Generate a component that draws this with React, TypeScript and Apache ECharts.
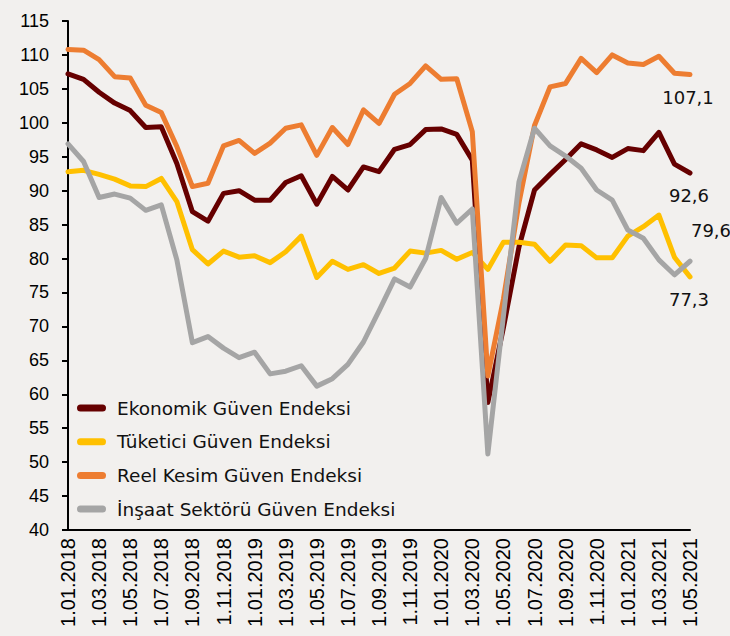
import React, { useEffect, useRef } from "react";
import * as echarts from "echarts";

const months = [
  "1.01.2018", "1.02.2018", "1.03.2018", "1.04.2018", "1.05.2018", "1.06.2018",
  "1.07.2018", "1.08.2018", "1.09.2018", "1.10.2018", "1.11.2018", "1.12.2018",
  "1.01.2019", "1.02.2019", "1.03.2019", "1.04.2019", "1.05.2019", "1.06.2019",
  "1.07.2019", "1.08.2019", "1.09.2019", "1.10.2019", "1.11.2019", "1.12.2019",
  "1.01.2020", "1.02.2020", "1.03.2020", "1.04.2020", "1.05.2020", "1.06.2020",
  "1.07.2020", "1.08.2020", "1.09.2020", "1.10.2020", "1.11.2020", "1.12.2020",
  "1.01.2021", "1.02.2021", "1.03.2021", "1.04.2021", "1.05.2021",
];

const ekonomik = [
  107.2, 106.4, 104.5, 102.9, 101.8, 99.3, 99.4, 94.0, 86.9, 85.5,
  89.6, 90.0, 88.6, 88.6, 91.2, 92.2, 88.0, 92.1, 90.1, 93.5,
  92.8, 96.1, 96.8, 99.0, 99.1, 98.3, 94.5, 58.8, 69.8, 81.7,
  90.1, 92.4, 94.6, 96.9, 96.0, 94.9, 96.2, 95.9, 98.6, 93.9,
  92.6,
];

const tuketici = [
  92.8, 93.0, 92.4, 91.7, 90.7, 90.6, 91.8, 88.4, 81.3, 79.2,
  81.1, 80.2, 80.4, 79.4, 81.0, 83.3, 77.2, 79.6, 78.4, 79.1,
  77.8, 78.6, 81.1, 80.8, 81.2, 79.9, 80.9, 78.4, 82.4, 82.4,
  82.1, 79.6, 82.0, 81.9, 80.1, 80.1, 83.3, 84.7, 86.4, 80.2,
  77.3,
];

const reelKesim = [
  110.8, 110.7, 109.3, 106.8, 106.6, 102.6, 101.5, 96.5, 90.6, 91.1,
  96.6, 97.4, 95.5, 97.0, 99.2, 99.7, 95.2, 99.3, 96.8, 101.9,
  99.9, 104.2, 105.8, 108.4, 106.4, 106.5, 98.7, 62.7, 74.0, 88.2,
  99.6, 105.3, 105.8, 109.5, 107.4, 110.0, 108.8, 108.6, 109.8, 107.3,
  107.1,
];

const insaat = [
  96.9, 94.3, 89.0, 89.5, 88.9, 87.1, 87.9, 79.8, 67.6, 68.5,
  66.8, 65.4, 66.2, 63.0, 63.4, 64.2, 61.2, 62.3, 64.4, 67.7,
  72.3, 77.0, 75.8, 80.0, 89.0, 85.2, 87.3, 51.2, 71.5, 91.3,
  99.2, 96.6, 95.1, 93.3, 90.1, 88.6, 84.2, 83.0, 79.8, 77.6,
  79.6,
];

const seriesNames = [
  "Ekonomik Güven Endeksi",
  "Tüketici Güven Endeksi",
  "Reel Kesim Güven Endeksi",
  "İnşaat Sektörü Güven Endeksi",
];
const seriesColors = ["#660000", "#FFC000", "#ED7D31", "#A5A5A5"];
const seriesValues = [ekonomik, tuketici, reelKesim, insaat];

const yMin = 40;
const yMax = 115;
const yStep = 5;

const fmt = (v: number) => v.toFixed(1).replace(".", ",");

export default function App() {
  const ref = useRef<HTMLDivElement>(null);
  useEffect(() => {
    document.body.style.margin = "0";
    const chart = echarts.init(ref.current!, null, { renderer: "svg" });
    const labelCfg = [
      { position: "bottom", distance: 12, offset: [-1, 0] },
      { position: "bottom", distance: 12, offset: [-1, 0] },
      { position: "bottom", distance: 12, offset: [-2, 0] },
      { position: "top", distance: 20, offset: [21, 0] },
    ];
    const series = seriesValues.map((vals, i) => ({
      name: seriesNames[i],
      type: "line",
      data: vals,
      showSymbol: false,
      symbol: "none",
      color: seriesColors[i],
      lineStyle: { width: 5, color: seriesColors[i], join: "round", cap: "round" },
      z: 2 + i,
      markPoint: {
        symbol: "rect",
        symbolSize: 1,
        itemStyle: { color: "rgba(0,0,0,0)" },
        label: {
          show: true,
          position: labelCfg[i].position,
          distance: labelCfg[i].distance,
          offset: labelCfg[i].offset,
          formatter: () => fmt(vals[vals.length - 1]),
          fontSize: 18,
          fontFamily: "DejaVu Sans",
          color: "#111",
          lineHeight: 20,
        },
        data: [{ coord: [months[months.length - 1], vals[vals.length - 1]] }],
      },
    }));
    chart.setOption({
      animation: false,
      backgroundColor: "#f2f0ee",
      grid: { left: 68, right: 40, top: 21, bottom: 106, containLabel: false },
      legend: {
        orient: "vertical",
        left: 77,
        top: 398,
        padding: 0,
        itemWidth: 29,
        itemHeight: 7,
        itemGap: 13.7,
        icon: "path://M3.5,0 L25.5,0 A3.5,3.5 0 0 1 25.5,7 L3.5,7 A3.5,3.5 0 0 1 3.5,0 Z",
        data: seriesNames,
        textStyle: {
          fontSize: 18.5,
          fontFamily: "DejaVu Sans",
          color: "#111",
          lineHeight: 20,
          padding: [0, 0, 0, 6],
        },
      },
      xAxis: {
        type: "category",
        data: months,
        boundaryGap: false,
        axisLine: { lineStyle: { color: "#000", width: 2 } },
        axisTick: { show: false },
        axisLabel: {
          interval: 1,
          rotate: 90,
          margin: 8,
          fontSize: 20,
          fontFamily: "Liberation Sans",
          color: "#000",
        },
        splitLine: { show: false },
      },
      yAxis: {
        type: "value",
        min: yMin,
        max: yMax,
        interval: yStep,
        axisLine: { show: true, lineStyle: { color: "#000", width: 2 } },
        axisTick: { show: true, length: 6, lineStyle: { color: "#000", width: 2 } },
        axisLabel: {
          margin: 19,
          fontSize: 18,
          fontFamily: "Liberation Sans",
          color: "#000",
        },
        splitLine: { show: false },
      },
      series,
    });
    return () => chart.dispose();
  }, []);
  return <div ref={ref} style={{ width: 730, height: 636 }} />;
}
